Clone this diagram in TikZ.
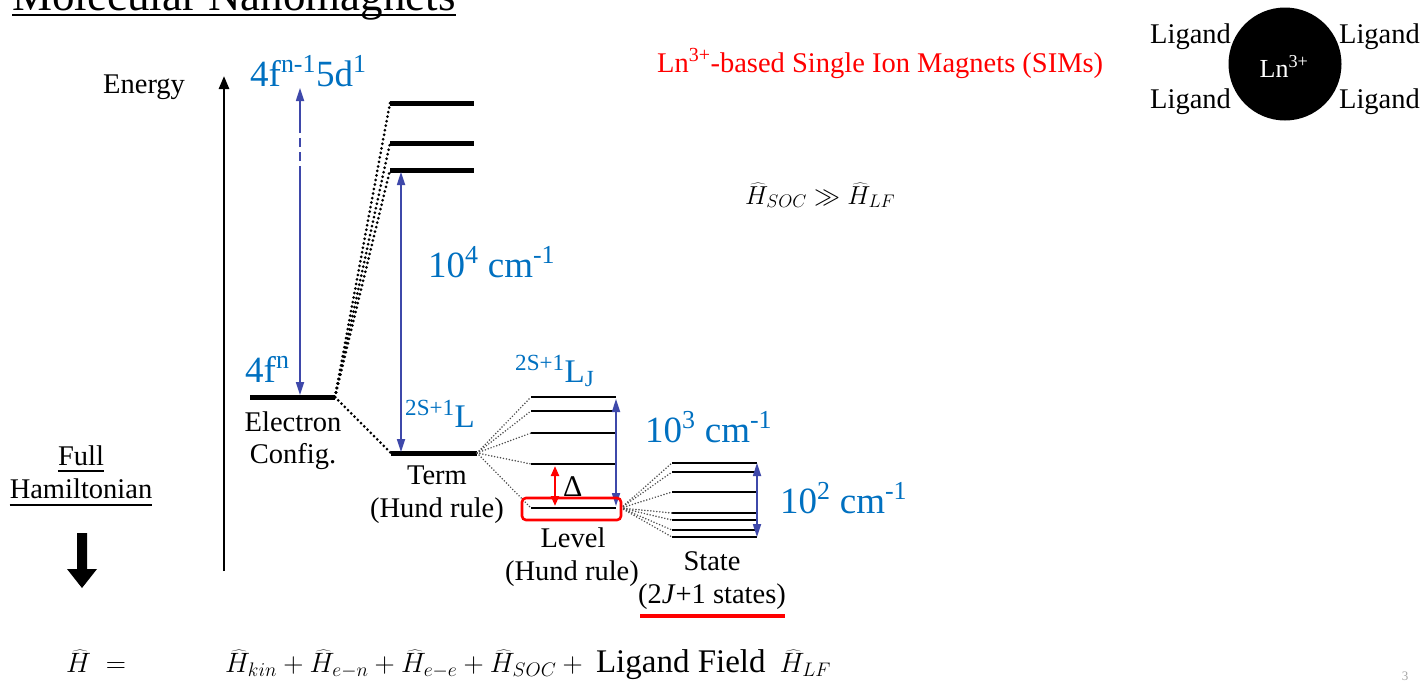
\documentclass[tikz,border=0pt]{standalone}
\usepackage{fix-cm}
\usepackage{fontspec}
\setmainfont{Liberation Serif}
\usetikzlibrary{arrows.meta}
\definecolor{lblue}{RGB}{0,112,192}
\definecolor{ablue}{RGB}{62,72,170}
\definecolor{lred}{RGB}{255,0,0}
\newcommand\myfs[1]{\fontsize{#1}{#1}\selectfont}
\tikzset{
  txt/.style={font=\myfs{28.5}, inner sep=0pt, anchor=base},
  blbl/.style={text=lblue, font=\myfs{37}, inner sep=0pt, anchor=base west},
  bar/.style={line width=5pt},
  lvl/.style={line width=2.6pt},
  dotk/.style={line width=3pt, dash pattern=on 0pt off 4.6pt, line cap=round},
  dotg/.style={black!70, line width=1.7pt, dash pattern=on 0pt off 3pt, line cap=round},
  tri/.tip={Triangle[length=13pt,width=8pt]},
  barr/.style={ablue, line width=1.7pt},
}
\begin{document}
\begin{tikzpicture}[x=1pt,y=-1pt]
\useasboundingbox (0,0) rectangle (1422,681);

% title (cut off at top)
\node[font=\myfs{45}, inner sep=0pt, anchor=base west] (title) at (12,10) {Molecular Nanomagnets};
\draw[line width=2pt] ([yshift=-5pt]title.base west) -- ([yshift=-5pt]title.base east);

% energy axis
\coordinate (eb) at (224,571);
\coordinate (et) at (224,76);
\draw[line width=2.6pt,-{Triangle[length=13pt,width=10pt]}] (eb) -- (et);
\node[txt, anchor=base west] (energy) at (103,93) {Energy};

% electron configuration bar
\coordinate (ecl) at (250,397); \coordinate (ecr) at (335,397);
\draw[bar] (ecl) -- (ecr);
% 4f^{n-1}5d^1 bars
\coordinate (d1l) at (390,103); \coordinate (d1r) at (474,103);
\coordinate (d2l) at (390,143); \coordinate (d2r) at (474,143);
\coordinate (d3l) at (390,170); \coordinate (d3r) at (474,170);
\draw[bar] (d1l) -- (d1r);
\draw[bar] (d2l) -- (d2r);
\draw[bar] (d3l) -- (d3r);
% term bar
\coordinate (tml) at (391,453); \coordinate (tmr) at (477,453);
\draw[bar] (tml) -- (tmr);

% thick dotted connectors
\draw[dotk] (ecr) -- (d1l);
\draw[dotk] (ecr) -- (d2l);
\draw[dotk] (ecr) -- (d3l);
\draw[dotk] (ecr) -- (tml);

% level bars
\foreach \n/\y in {1/397,2/411,3/433,4/464,5/508}{
  \coordinate (l\n l) at (531,\y); \coordinate (l\n r) at (616,\y);
  \draw[lvl] (l\n l) -- (l\n r);
  \draw[dotg] (tmr) -- (l\n l);
}
% state bars
\coordinate (lsrc) at (621,508);
\foreach \n/\y in {1/463,2/472,3/492,4/513,5/520,6/530,7/537}{
  \coordinate (s\n l) at (672,\y); \coordinate (s\n r) at (757,\y);
  \draw[lvl, line width=2.2pt] (s\n l) -- (s\n r);
  \draw[dotg] (lsrc) -- (s\n l);
}

% blue arrows
\coordinate (a1b) at (300,395); \coordinate (a1m) at (300,175);
\coordinate (a1n) at (300,130); \coordinate (a1t) at (300,88);
\draw[barr, -{tri}] (a1m) -- (a1b);
\draw[barr, dash pattern=on 9pt off 5pt] (a1m) -- (a1n);
\draw[barr, -{tri}] (a1n) -- (a1t);

\coordinate (a2t) at (401,172); \coordinate (a2b) at (401,452);
\draw[barr, {tri}-{tri}] (a2t) -- (a2b);
\coordinate (a3t) at (616,399); \coordinate (a3b) at (616,506);
\draw[barr, {tri}-{tri}] (a3t) -- (a3b);
\coordinate (a4t) at (757,463); \coordinate (a4b) at (757,537);
\draw[barr, {tri}-{tri}] (a4t) -- (a4b);

% red gap arrow and box
\coordinate (rt) at (555,466); \coordinate (rb) at (555,506);
\draw[lred, line width=2.2pt, {Triangle[length=10pt,width=8pt]}-{Triangle[length=10pt,width=8pt]}] (rt) -- (rb);
\node[font=\myfs{30}, inner sep=0pt, anchor=base west] (delta) at (563,496) {Δ};
\draw[lred, line width=2.6pt, rounded corners=4pt] (522,498) rectangle (621,520);

% blue labels
\node[blbl] (lab5d) at (250,86) {4f\textsuperscript{n-1}5d\textsuperscript{1}};
\node[blbl] (lab4f) at (245,382) {4f\textsuperscript{n}};
\node[blbl] (lab104) at (428,277) {10\textsuperscript{4} cm\textsuperscript{-1}};
\node[blbl, font=\myfs{33}] (labL) at (405,427) {\textsuperscript{2S+1}L};
\node[blbl, font=\myfs{33}] (labLJ) at (515,382) {\textsuperscript{2S+1}L\textsubscript{J}};
\node[blbl] (lab103) at (645,442) {10\textsuperscript{3} cm\textsuperscript{-1}};
\node[blbl] (lab102) at (780,513) {10\textsuperscript{2} cm\textsuperscript{-1}};

% black labels
\node[txt] (ec1) at (293,431) {Electron};
\node[txt] (ec2) at (293,463) {Config.};
\node[txt] (tm1) at (437,484) {Term};
\node[txt] (tm2) at (437,517) {(Hund rule)};
\node[txt] (lv1) at (573,547) {Level};
\node[txt] (lv2) at (572,580) {(Hund rule)};
\node[txt] (st1) at (712,570) {State};
\node[txt] (st2) at (712,603) {(2\textit{J}+1 states)};
\draw[lred, line width=4pt] (640,616) -- (785,616);

% Full Hamiltonian
\node[txt] (full) at (81,465) {Full};
\node[txt] (ham) at (81,498) {Hamiltonian};
\draw[line width=1.5pt] ([yshift=-6pt]full.base west) -- ([yshift=-6pt]full.base east);
\draw[line width=1.5pt] ([yshift=-7pt]ham.base west) -- ([yshift=-7pt]ham.base east);
\fill (77,533) -- (87,533) -- (87,569) -- (97,569) -- (82,588) -- (67,569) -- (77,569) -- cycle;

% formula
\node[font=\myfs{28}, inner sep=0pt, anchor=base west] (hdef) at (66,672) {$\widehat{H}\ =$};
\node[font=\myfs{28}, inner sep=0pt, anchor=base west] (hsum) at (225,672)
  {$\widehat{H}_{kin}+\widehat{H}_{e-n}+\widehat{H}_{e-e}+\widehat{H}_{SOC}+{}$\ {\myfs{33}Ligand Field}\ \ $\widehat{H}_{LF}$};

% right side
\node[txt, anchor=base west, text=lred] (sims) at (657,72) {Ln\textsuperscript{3+}-based Single Ion Magnets (SIMs)};
\node[font=\myfs{26}, inner sep=0pt, anchor=base west] (soc) at (745,204) {$\widehat{H}_{SOC}\gg\widehat{H}_{LF}$};

\node[circle, fill=black, minimum size=113pt, inner sep=0pt] (ion) at (1285,64) {};
\node[font=\myfs{26}, text=white, inner sep=0pt, anchor=base] (ln) at (1284,77) {Ln\textsuperscript{3+}};
\node[txt, anchor=base west] (lg1) at (1150,43) {Ligand};
\node[txt, anchor=base east] (lg2) at (1420,43) {Ligand};
\node[txt, anchor=base west] (lg3) at (1150,108) {Ligand};
\node[txt, anchor=base east] (lg4) at (1420,108) {Ligand};

\node[font=\myfs{13}, text=black!35, inner sep=0pt] (pg) at (1405,676) {3};
\end{tikzpicture}
\end{document}
